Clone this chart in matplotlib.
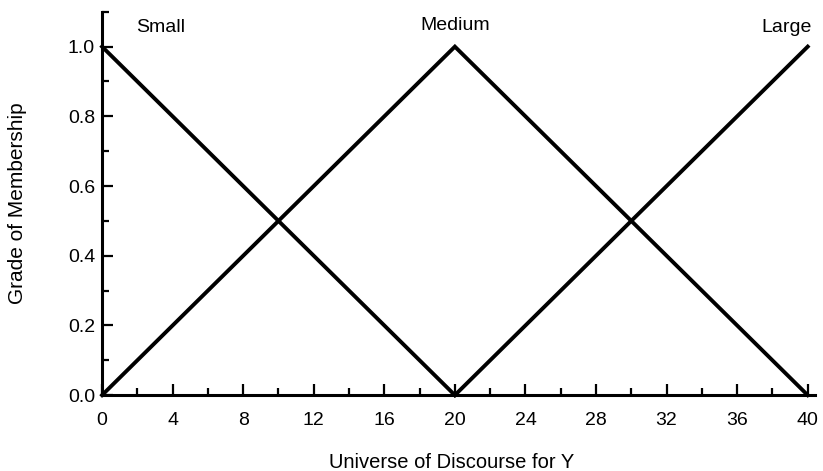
import matplotlib
matplotlib.use("Agg")
import matplotlib.pyplot as plt
from matplotlib.ticker import MultipleLocator

plt.rcParams["font.family"] = ["Liberation Sans", "DejaVu Sans"]

# membership functions
small_x = [0, 20]
small_y = [1.0, 0.0]
medium_x = [0, 20, 40]
medium_y = [0.0, 1.0, 0.0]
large_x = [20, 40]
large_y = [0.0, 1.0]

labels = ["Small", "Medium", "Large"]
label_x = [3.3, 20, 38.8]
label_y = [1.055, 1.06, 1.055]

fig = plt.figure(figsize=(8.23, 4.71), dpi=100)
ax = fig.add_axes([0.124, 0.161, 0.866, 0.814])

for xs, ys in [(small_x, small_y), (medium_x, medium_y), (large_x, large_y)]:
    ax.plot(xs, ys, color="black", lw=2.8, solid_joinstyle="miter", clip_on=False)

for lab, lx, ly in zip(labels, label_x, label_y):
    ax.text(lx, ly, lab, ha="center", va="center", fontsize=14)

ax.set_xlim(0, 40.4)
ax.set_ylim(0, 1.1)
ax.xaxis.set_major_locator(MultipleLocator(4))
ax.xaxis.set_minor_locator(MultipleLocator(2))
ax.set_yticks([0, 0.2, 0.4, 0.6, 0.8, 1.0])
ax.yaxis.set_minor_locator(MultipleLocator(0.1))
ax.set_yticklabels(["0.0", "0.2", "0.4", "0.6", "0.8", "1.0"])

for s in ["top", "right"]:
    ax.spines[s].set_visible(False)
for s in ["left", "bottom"]:
    ax.spines[s].set_linewidth(2.2)

ax.tick_params(which="both", direction="in", width=1.6, labelsize=14)
ax.tick_params(which="major", length=8)
ax.tick_params(which="minor", length=5)
ax.tick_params(axis="x", pad=12)
ax.tick_params(axis="y", pad=5)

ax.set_xlabel("Universe of Discourse for Y", fontsize=14.5)
ax.set_ylabel("Grade of Membership", fontsize=15)
ax.xaxis.set_label_coords(0.49, -0.151)
ax.yaxis.set_label_coords(-0.106, 0.5)

fig.savefig("out.png", dpi=100)
